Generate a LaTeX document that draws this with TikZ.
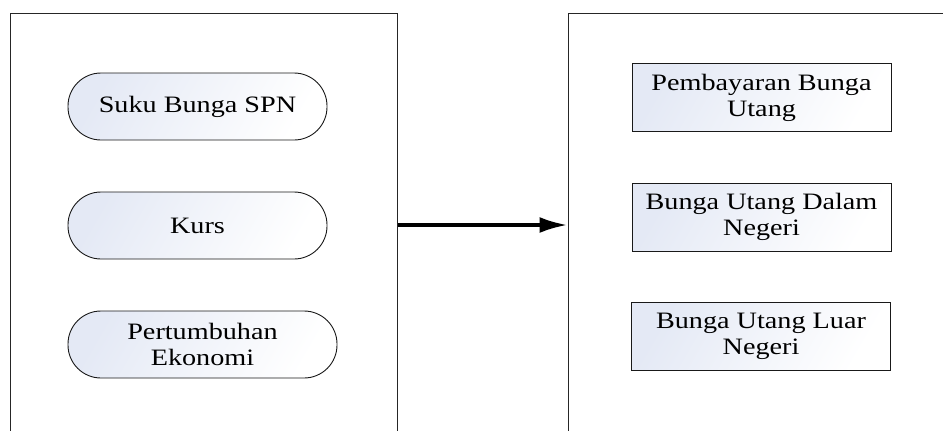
\documentclass[tikz,border=0pt]{standalone}
\usepackage[x11names]{xcolor}
\usepackage{fontspec}
\setmainfont{Liberation Serif}[FakeStretch=1.2]
\usepackage{tikz}
\usetikzlibrary{arrows.meta,positioning}
\definecolor{boxtint}{HTML}{E4E9F5}
\tikzset{
  panel/.style={draw=black!85, line width=1pt, minimum width=387pt, minimum height=424pt},
  factor/.style={draw=black!90, line width=0.9pt, rounded corners=33pt,
    minimum width=259pt, minimum height=67pt, align=center,
    shading=axis, top color=boxtint, bottom color=white, shading angle=60},
  result/.style={draw=black!90, line width=0.9pt,
    minimum width=259pt, minimum height=68pt, align=center,
    shading=axis, top color=boxtint, bottom color=white, shading angle=60},
}

\begin{document}
\begin{tikzpicture}[x=1pt,y=-1pt, font=\fontsize{23.5}{26}\selectfont]
        \useasboundingbox (0,0) rectangle (943,431);
        \clip (0,0) rectangle (943,431);
        % kotak kiri dan kanan
        \node[panel] (kiri) at (203.5,225) {};
        \node[panel] (kanan) at (761.5,225) {};
        % variabel independen
        \node[factor] (spn) at (197.5,106.5) {Suku Bunga SPN};
        \node[factor] (kurs) at (197.5,225.5) {Kurs};
        \node[factor, minimum width=269pt] (pe) at (202.5,344.5) {Pertumbuhan\\Ekonomi};
        % variabel dependen
        \node[result] (bayar) at (761.5,97.5) {Pembayaran Bunga\\Utang};
        \node[result] (dalam) at (761.5,217) {Bunga Utang Dalam\\Negeri};
        \node[result] (luar) at (761,336) {Bunga Utang Luar\\Negeri};
        \draw[line width=3.6pt, -{Latex[length=28pt,width=16pt]}] (kiri.east) -- (kanan.west);
    \end{tikzpicture}
\end{document}
